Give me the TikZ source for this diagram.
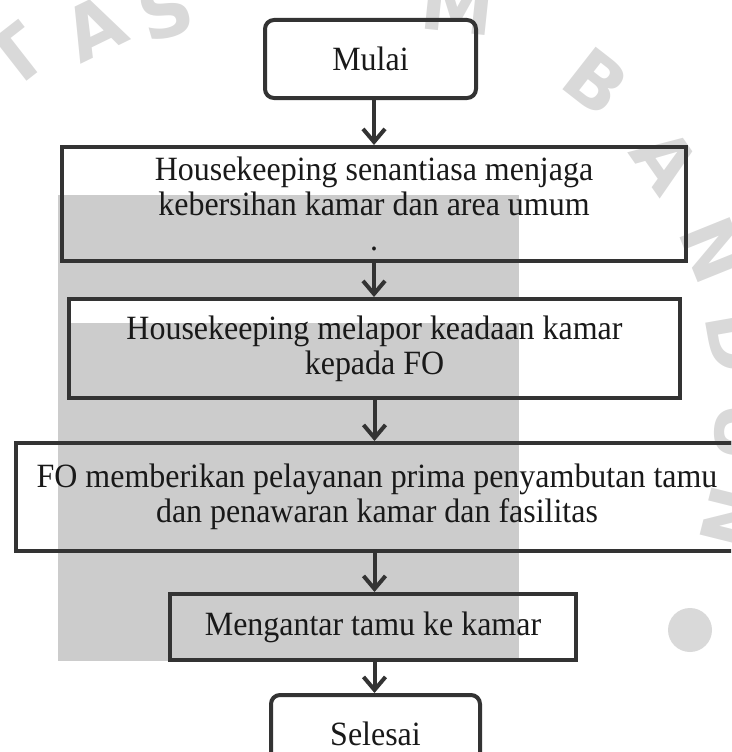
\documentclass[tikz,border=0pt]{standalone}
\usepackage{fontspec}
\setmainfont[FakeStretch=0.94]{Liberation Serif}
\newfontfamily\logofont{DejaVu Sans}
\usetikzlibrary{arrows.meta}

\begin{document}
\begin{tikzpicture}[x=1pt,y=-1pt,
    proses/.style={draw=black!80, line width=4pt, inner sep=0pt, align=center,
        font=\fontsize{34}{35}\selectfont, text=black!90},
    terminal/.style={proses, rounded corners=9pt},
    panah/.style={draw=black!80, line width=4pt, -{Straight Barb[length=13pt,width=22pt]}},
    huruflogo/.style={text=black!15, font=\logofont\bfseries\fontsize{74}{74}\selectfont, inner sep=0pt}]
    \useasboundingbox (0,0) rectangle (731,752);
    \clip (0,0) rectangle (731,752);

    % cap samar di belakang
    \foreach \huruf/\cx/\cy/\sudut in {T/16/56/38, A/94/28/26, S/166/10/16, M/458/6/-6,
        B/596/82/-38, A/666/160/-55, N/714/250/-68, D/736/342/-80, U/742/432/-92, N/732/518/-104}
        \node[huruflogo, rotate=\sudut] (c-\cx) at (\cx,\cy) {\huruf};
    \fill[black!15] (690,630) circle (22);

    % latar abu-abu
    \fill[black!20] (58,195) rectangle (519,661);
    \fill[white] (69,299) rectangle (519,323);

    \node[terminal, minimum width=211pt, minimum height=78pt] (mulai) at (370.5,59) {Mulai};
    \node[proses, minimum width=624pt, minimum height=114pt] (jaga) at (374,204)
        {Housekeeping senantiasa menjaga\\kebersihan kamar dan area umum\\.};
    \node[proses, minimum width=611pt, minimum height=99pt] (lapor) at (374.5,348.5)
        {Housekeeping melapor keadaan kamar\\kepada FO};
    \node[proses, minimum width=722pt, minimum height=108pt] (layan) at (377,497)
        {FO memberikan pelayanan prima penyambutan tamu\\dan penawaran kamar dan fasilitas};
    \node[proses, minimum width=406pt, minimum height=66pt] (antar) at (373,627)
        {Mengantar tamu ke kamar};
    \node[terminal, minimum width=209pt, minimum height=78pt] (selesai) at (375.5,734) {Selesai};

    \draw[panah] (jaga.north |- mulai.south) -- (jaga.north);
    \draw[panah] (jaga.south) -- (lapor.north -| jaga.south);
    \draw[panah] (lapor.south) -- (layan.north -| lapor.south);
    \draw[panah] (lapor.south |- layan.south) -- (lapor.south |- antar.north);
    \draw[panah] (lapor.south |- antar.south) -- (lapor.south |- selesai.north);
\end{tikzpicture}
\end{document}
